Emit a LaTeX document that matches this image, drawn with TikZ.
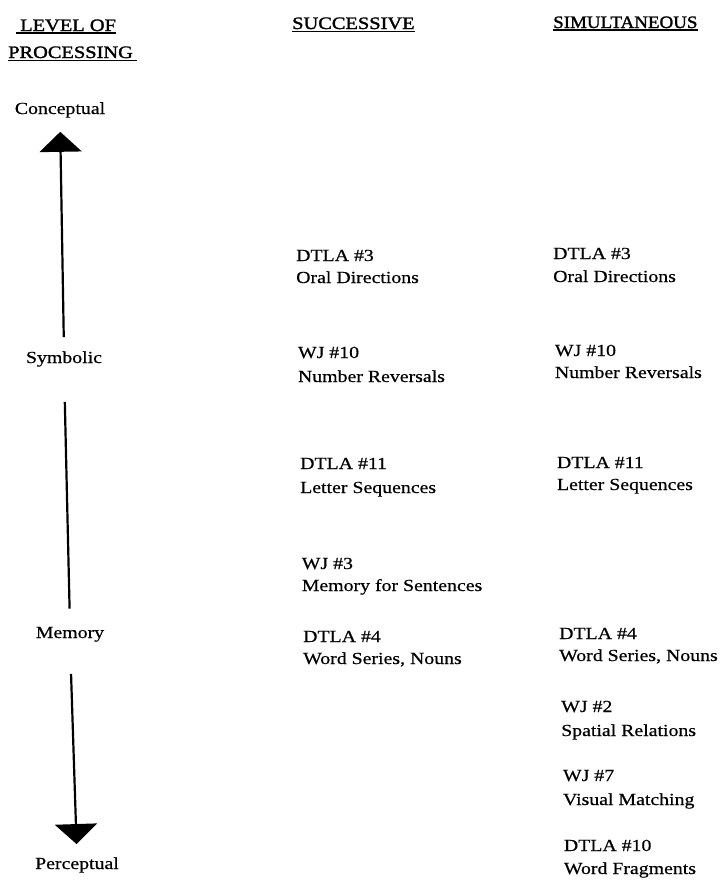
\documentclass[tikz,border=0pt]{standalone}
\usepackage{fontspec}
\setmainfont{Liberation Serif}[FakeStretch=1.17,FakeBold=0.5]
\newfontfamily\hdrfont{Liberation Serif}[FakeStretch=1.17,FakeBold=1.6]
\usetikzlibrary{arrows.meta}
\begin{document}
\begin{tikzpicture}[x=1bp,y=-1bp,
  txt/.style={anchor=base west, inner sep=0pt, font=\fontsize{17}{20}\selectfont},
  lvl/.style={anchor=base, inner sep=0pt, font=\fontsize{17}{20}\selectfont},
  hdr/.style={anchor=base west, inner sep=0pt, font=\hdrfont\fontsize{17.5}{20}\selectfont},
  uline/.style={line width=1.5bp},
  axisline/.style={line width=2.2bp},
  uparrow/.style={axisline, -{Triangle[width=42bp,length=20bp]}},
]
\useasboundingbox (0,0) rectangle (722,886);

% headers
\node[hdr] (h1) at (20,31) {LEVEL OF};
\node[hdr] (h2) at (8,58) {PROCESSING};
\node[hdr] (h3) at (292,29) {SUCCESSIVE};
\node[hdr] (h4) at (553,28) {\scalebox{0.93}[1]{SIMULTANEOUS}};
\draw[uline] ([xshift=-4bp,yshift=-2bp]h1.base west) -- ([yshift=-2bp]h1.base east);
\draw[uline] ([yshift=-2.5bp]h2.base west) -- ([xshift=4bp,yshift=-2.5bp]h2.base east);
\draw[uline] ([yshift=-2.5bp]h3.base west) -- ([yshift=-2.5bp]h3.base east);
\draw[uline] ([yshift=-2bp]h4.base west) -- ([yshift=-2bp]h4.base east);

% levels
\node[lvl] (con) at (60,114) {Conceptual};
\node[lvl] (sym) at (64,363) {Symbolic};
\node[lvl] (mem) at (70,638) {Memory};
\node[lvl] (per) at (77,869) {Perceptual};

\draw[uparrow, shorten <=14bp, shorten >=14bp] (sym.north) -- (con.south);
\draw[axisline, shorten <=35bp, shorten >=18bp] (sym.south) -- (mem.north);
\draw[uparrow, shorten <=32bp, shorten >=13bp] (mem.south) -- (per.north);

% successive column
\node[txt] (s1a) at (296,261) {DTLA \#3};
\node[txt] (s1b) at (296,283) {Oral Directions};
\node[txt] (s2a) at (297.8,358) {WJ \#10};
\node[txt] (s2b) at (297.8,382) {Number Reversals};
\node[txt] (s3a) at (300,469) {DTLA \#11};
\node[txt] (s3b) at (300,493) {Letter Sequences};
\node[txt] (s4a) at (301.6,569) {WJ \#3};
\node[txt] (s4b) at (301.6,591) {Memory for Sentences};
\node[txt] (s5a) at (303,642) {DTLA \#4};
\node[txt] (s5b) at (303,664) {Word Series, Nouns};

% simultaneous column
\node[txt] (m1a) at (553,259) {DTLA \#3};
\node[txt] (m1b) at (553,282) {Oral Directions};
\node[txt] (m2a) at (554.7,356) {WJ \#10};
\node[txt] (m2b) at (554.7,378) {Number Reversals};
\node[txt] (m3a) at (556.8,468) {DTLA \#11};
\node[txt] (m3b) at (556.8,490) {Letter Sequences};
\node[txt] (m4a) at (559,639) {DTLA \#4};
\node[txt] (m4b) at (559,661) {Word Series, Nouns};
\node[txt] (m5a) at (561,712) {WJ \#2};
\node[txt] (m5b) at (561,736) {Spatial Relations};
\node[txt] (m6a) at (562.8,781) {WJ \#7};
\node[txt] (m6b) at (562.8,805) {Visual Matching};
\node[txt] (m7a) at (563.7,851) {DTLA \#10};
\node[txt] (m7b) at (563.7,874) {Word Fragments};
\end{tikzpicture}
\end{document}
